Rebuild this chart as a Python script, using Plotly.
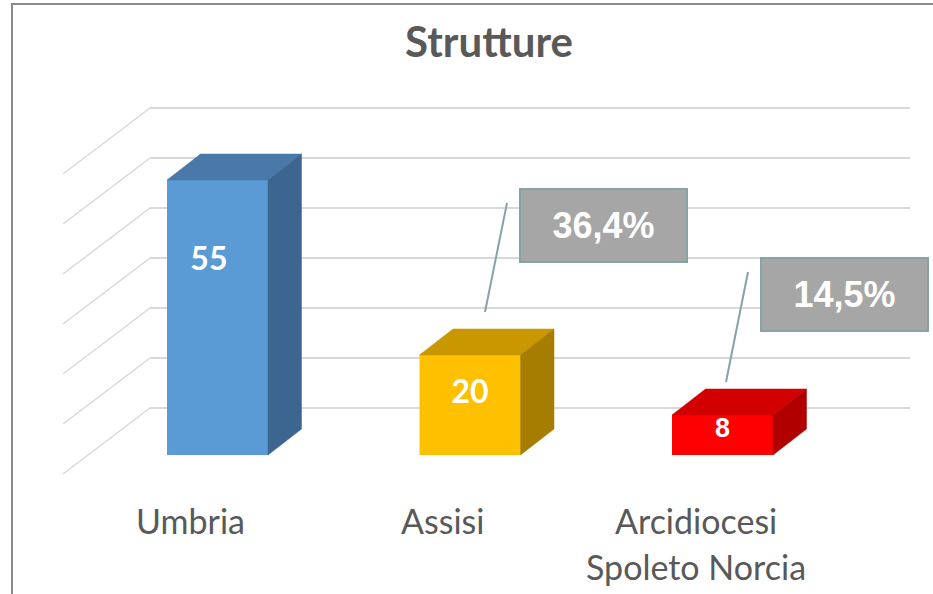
import plotly.graph_objects as go

# ---------------- data ----------------
title_text = "Strutture"
categories = ["Umbria", "Assisi", "Arcidiocesi\nSpoleto Norcia"]
values = [55, 20, 8]
wall_ticks = [0, 10, 20, 30, 40, 50, 60]

# ---------------- styles ----------------
front_colors = ["#5b9bd5", "#ffc000", "#ff0000"]
top_colors = ["#4a78a8", "#c99700", "#d20000"]
side_colors = ["#3c6590", "#a67d00", "#b00000"]
grid_color = "#d9d9d9"
text_gray = "#595959"

W, H = 933, 594


def px(x):
    return x / W


def py(y):
    return 1 - y / H


# geometry (pixels): 5 px per unit, category spacing 252.5 px
unit_px = 5.0
cat_px = 252.5
bar_w = 0.4
depth_dx = 33.5 / cat_px
depth_dy = 26 / unit_px
wall_base_px = 408      # pixel row of wall value 0
wall_left_px = 150
label_shift = -27 / cat_px   # category labels sit left of bar centres (perspective)

# value-label positions (data units) and fonts
label_y = [38.6, 12, 5]
label_dx = [-0.034, 0, 0]
label_family = ["Lato", "Lato", "Liberation Sans"]
label_size = [32, 32, 27]

fig = go.Figure()

# --- back wall gridlines (subplot 1) ---
fig.add_trace(go.Scatter(x=[0, 1], y=[0, 0], mode="lines", line=dict(width=0),
                         hoverinfo="skip", showlegend=False, xaxis="x", yaxis="y"))

# --- bars: front faces ---
xs = list(range(len(values)))
fig.add_trace(go.Bar(x=xs, y=values, width=bar_w, marker=dict(color=front_colors, line=dict(width=0)),
                     showlegend=False, xaxis="x2", yaxis="y2", hoverinfo="skip"))

# --- 3D top and side faces derived from values ---
for i, v in enumerate(values):
    l, r = i - bar_w / 2, i + bar_w / 2
    fig.add_trace(go.Scatter(
        x=[l, r, r + depth_dx, l + depth_dx, l],
        y=[v, v, v + depth_dy, v + depth_dy, v],
        fill="toself", fillcolor=top_colors[i], mode="lines",
        line=dict(color=top_colors[i], width=0.5),
        hoverinfo="skip", showlegend=False, xaxis="x2", yaxis="y2"))
    fig.add_trace(go.Scatter(
        x=[r, r, r + depth_dx, r + depth_dx, r],
        y=[0, v, v + depth_dy, depth_dy, 0],
        fill="toself", fillcolor=side_colors[i], mode="lines",
        line=dict(color=side_colors[i], width=0.5),
        hoverinfo="skip", showlegend=False, xaxis="x2", yaxis="y2"))

# --- value labels ---
fig.add_trace(go.Scatter(
    x=[i + d for i, d in zip(xs, label_dx)], y=label_y, mode="text",
    text=[str(v) for v in values],
    textfont=dict(color="white", family=label_family, size=label_size, weight="bold"),
    hoverinfo="skip", showlegend=False, xaxis="x2", yaxis="y2"))

# --- diagonal side-wall lines from each wall gridline ---
shapes = []
for t in wall_ticks:
    yy = wall_base_px - unit_px * t
    shapes.append(dict(type="line", xref="paper", yref="paper",
                       x0=px(wall_left_px), y0=py(yy), x1=px(wall_left_px - 87), y1=py(yy + 66),
                       line=dict(color=grid_color, width=1.5), layer="below"))

# --- outer frame ---
shapes.append(dict(type="rect", xref="paper", yref="paper",
                   x0=px(12), y0=py(4), x1=px(950), y1=py(620),
                   line=dict(color="#8a8a8a", width=2)))

# --- category labels ---
annotations = []
for i, c in enumerate(categories):
    for j, line in enumerate(c.split("\n")):
        annotations.append(dict(x=i + label_shift, xref="x2", y=py(520 + 46 * j), yref="paper",
                                text=line, showarrow=False, xanchor="center", yanchor="middle",
                                font=dict(family="Lato", size=34, color=text_gray)))

# --- percentage callouts (share of first category) ---
callout_boxes = {1: (603, 225), 2: (844.5, 294)}
callout_lines = {1: ((507, 203), (485, 312)), 2: ((748, 272), (726, 382))}
for i, (cx, cy) in callout_boxes.items():
    pct = values[i] / values[0] * 100
    txt = f"{pct:.1f}%".replace(".", ",")
    annotations.append(dict(x=px(cx), y=py(cy), xref="paper", yref="paper", text=txt,
                            showarrow=False, xanchor="center", yanchor="middle",
                            width=165, height=71, borderpad=0, borderwidth=2,
                            bgcolor="#a6a6a6", bordercolor="#86a3a8",
                            font=dict(family="Liberation Sans", size=36, color="white", weight="bold")))
    (x0, y0), (x1, y1) = callout_lines[i]
    shapes.append(dict(type="line", xref="paper", yref="paper",
                       x0=px(x0), y0=py(y0), x1=px(x1), y1=py(y1),
                       line=dict(color="#86a3a8", width=2)))

fig.update_layout(
    width=W, height=H, margin=dict(l=0, r=0, t=0, b=0),
    paper_bgcolor="white", plot_bgcolor="rgba(0,0,0,0)",
    title=dict(text=f"<b>{title_text}</b>", x=px(489), y=py(42), xanchor="center", yanchor="middle",
               font=dict(family="Lato", size=42, color=text_gray)),
    xaxis=dict(domain=[px(wall_left_px), px(910)], range=[0, 1], visible=False, fixedrange=True),
    yaxis=dict(domain=[py(wall_base_px + 5), py(wall_base_px - 60 * unit_px - 5)], range=[-1, 61],
               tickvals=wall_ticks,
               showgrid=True, gridcolor=grid_color, gridwidth=1.5, zeroline=False,
               showticklabels=False, ticks="", showline=False, fixedrange=True),
    xaxis2=dict(domain=[px(217.5 - cat_px / 2), px(722.5 + cat_px / 2)], range=[-0.5, 2.5],
                anchor="y2", visible=False, fixedrange=True),
    yaxis2=dict(domain=[py(455), py(455 - 70 * unit_px)], range=[0, 70], anchor="x2",
                visible=False, fixedrange=True),
    shapes=shapes, annotations=annotations,
)

fig.write_html("out.html", config={"displayModeBar": False},
               post_script="document.body.style.margin='0';document.body.style.overflow='hidden';")
